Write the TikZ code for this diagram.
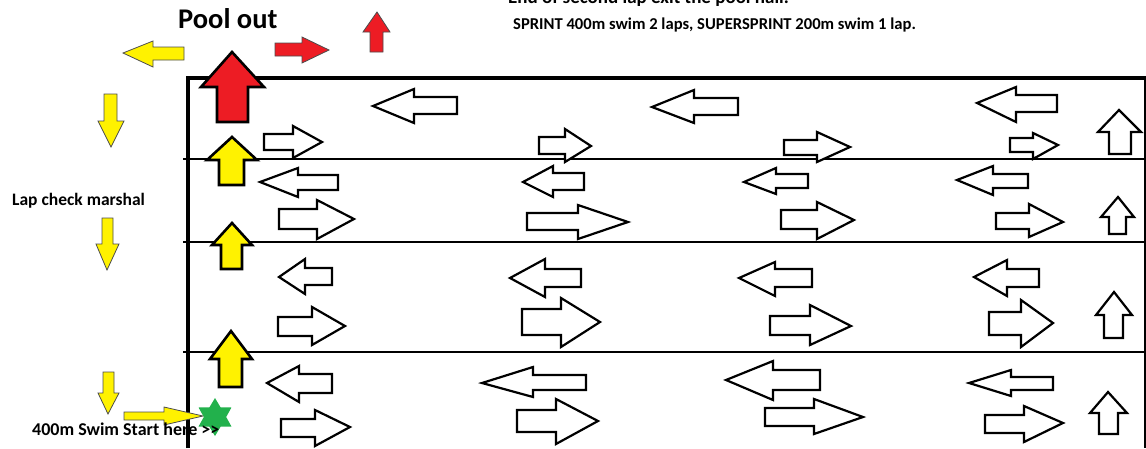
\documentclass[tikz,border=0pt]{standalone}
\usepackage{fontspec}
\setmainfont{Carlito}
\usetikzlibrary{shapes.geometric}
\definecolor{pyel}{HTML}{FFF200}
\definecolor{pred}{HTML}{ED1C24}
\definecolor{pgreen}{HTML}{22B14C}
% horizontal block arrow: style, tail x, head-base x, tip x, shaft y1, shaft y2, head y1, head y2, tip y
\newcommand{\harr}[9]{\draw[#1] (#2,#5) -- (#3,#5) -- (#3,#7) -- (#4,#9) -- (#3,#8) -- (#3,#6) -- (#2,#6) -- cycle;}
% vertical block arrow: style, shaft x1, shaft x2, head x1, head x2, tip x, shaft end y, head-base y, tip y
\newcommand{\varr}[9]{\draw[#1] (#2,#7) -- (#2,#8) -- (#4,#8) -- (#6,#9) -- (#5,#8) -- (#3,#8) -- (#3,#7) -- cycle;}
\tikzset{
  wa/.style={draw=black, fill=white, line width=2.2pt, line join=miter},
  ya/.style={draw=black!70, fill=pyel, line width=0.8pt},
  yb/.style={draw=black, fill=pyel, line width=2.6pt},
  ra/.style={draw=black!70, fill=pred, line width=0.8pt},
  rb/.style={draw=black, fill=pred, line width=2.6pt},
  lbl/.style={font=\bfseries, text=black, inner sep=0pt, anchor=base west},
  lane/.style={draw=black, line width=2pt},
}
\begin{document}
\begin{tikzpicture}[x=1pt,y=-1pt]
\useasboundingbox (0,0) rectangle (1146,448);
% pool
\draw[lane] (183,159) -- (1146,159);
\draw[lane] (183,242) -- (1146,242);
\draw[lane] (183,351.5) -- (1146,351.5);
\draw[line width=1.5pt] (1145,78) -- (1145,448);
\draw[line width=3.6pt] (188,448) -- (188,78) -- (1146,78);
% lane 1
\harr{wa}{457}{414}{373}{97}{114}{89}{123}{106}
\harr{wa}{264}{293}{322}{134}{150}{126}{158}{142}
\harr{wa}{539}{565}{591}{137}{154}{129}{162}{146}
\harr{wa}{738}{694}{652}{98}{115}{90}{123}{107}
\harr{wa}{784}{817}{850}{140}{155}{132}{162}{147}
\harr{wa}{1057}{1016}{977}{95}{112}{87}{122}{103}
\harr{wa}{1010}{1033}{1058}{138}{152}{133}{159}{145}
\varr{wa}{1109}{1131}{1098}{1141}{1119}{154}{132}{110}
% lane 2
\harr{wa}{338}{298}{260}{175}{190}{168}{197}{182}
\harr{wa}{279}{317}{354}{209}{229}{200}{239}{219}
\harr{wa}{584}{553}{523}{173}{190}{166}{197}{182}
\harr{wa}{527}{578}{628}{213}{230}{205}{239}{222}
\harr{wa}{808}{776}{744}{174}{188}{168}{194}{182}
\harr{wa}{781}{817}{854}{210}{229}{202}{239}{220}
\harr{wa}{1028}{993}{957}{174}{188}{166}{195}{180}
\harr{wa}{996}{1029}{1063}{213}{229}{204}{237}{222}
\varr{wa}{1109}{1126}{1101}{1134}{1118}{234}{217}{197}
% lane 3
\harr{wa}{332}{305}{279}{268}{285}{259}{294}{277}
\harr{wa}{278}{312}{345}{317}{336}{307}{345}{326}
\harr{wa}{581}{545}{510}{269}{287}{259}{297}{278}
\harr{wa}{522}{561}{600}{309}{335}{298}{347}{322}
\harr{wa}{812}{775}{739}{269}{287}{262}{296}{278}
\harr{wa}{770}{810}{851}{316}{335}{305}{345}{326}
\harr{wa}{1039}{1007}{974}{269}{287}{260}{296}{277}
\harr{wa}{989}{1021}{1053}{312}{335}{300}{347}{323}
\varr{wa}{1104}{1123}{1096}{1132}{1114}{338}{315}{292}
% lane 4
\harr{wa}{332}{299}{267}{374}{393}{366}{402}{383}
\harr{wa}{281}{315}{350}{419}{437}{410}{446}{427}
\harr{wa}{586}{533}{482}{375}{390}{367}{397}{383}
\harr{wa}{517}{556}{598}{410}{432}{399}{444}{421}
\harr{wa}{820}{773}{726}{370}{390}{361}{400}{380}
\harr{wa}{765}{814}{863}{408}{426}{399}{434}{417}
\harr{wa}{1053}{1011}{969}{377}{390}{370}{396}{383}
\harr{wa}{985}{1024}{1063}{415}{433}{406}{442}{423}
\varr{wa}{1099}{1118}{1090}{1127}{1108}{434}{413}{392}
% yellow arrows at the pool edge
\varr{yb}{219}{244}{207}{257}{232}{185}{160}{137}
\varr{yb}{221}{242}{212}{252}{232}{269}{245}{223}
\varr{yb}{219}{242}{210}{252}{231}{387}{359}{331}
% red exit arrow
\varr{rb}{217}{248}{201}{264}{232}{122}{87}{52}
% outside arrows
\harr{ya}{184}{153}{123}{47}{60}{41}{67}{53}
\harr{ra}{275}{302}{329}{43}{56}{37}{63}{50}
\varr{ra}{370}{383}{363}{390}{377}{52}{32}{12}
\varr{ya}{104}{117}{98}{124}{111}{94}{121}{147}
\varr{ya}{102}{113}{96}{119}{107}{218}{244}{270}
\varr{ya}{103}{114}{98}{119}{108}{372}{393}{414}
\harr{ya}{124}{164}{203}{412}{420}{407}{425}{416}
% start star
\node[star, star points=6, star point ratio=1.7, fill=pgreen, draw=none,
      minimum size=38pt, inner sep=0pt] (start) at (215,417) {};
% texts
\node[lbl, font=\bfseries\fontsize{28.5}{30}\selectfont] (poolout) at (178,28) {Pool out};
\node[lbl, font=\bfseries\fontsize{19}{21}\selectfont] (endlap) at (508,3) {End of second lap exit the pool hall.};
\node[lbl, font=\bfseries\fontsize{16.6}{18}\selectfont] (sprint) at (513,29) {SPRINT 400m swim 2 laps, SUPERSPRINT 200m swim 1 lap.};
\node[lbl, font=\bfseries\fontsize{17.5}{19}\selectfont] (lapcheck) at (12,205) {Lap check marshal};
\node[lbl, font=\bfseries\fontsize{18}{20}\selectfont] (swimstart) at (32,435) {400m Swim Start here {>}{>}};
\end{tikzpicture}
\end{document}
